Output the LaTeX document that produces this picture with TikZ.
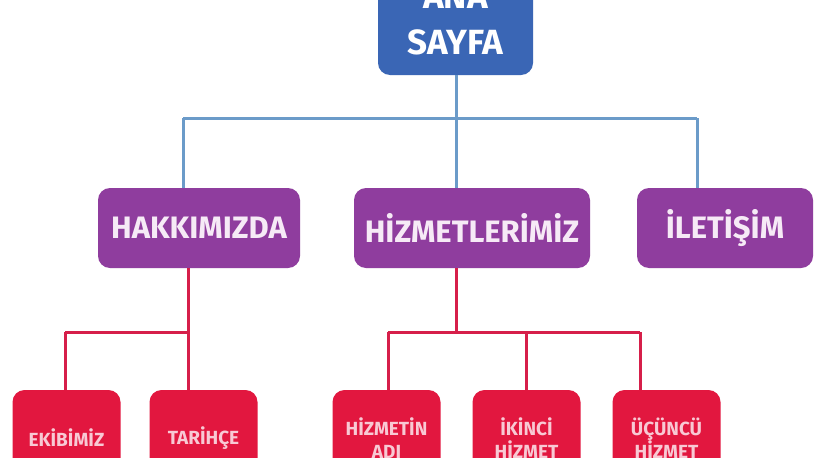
\documentclass[tikz,border=0pt]{standalone}
\usepackage{fontspec}
\setmainfont{Fira Sans}
\definecolor{anablue}{HTML}{3A66B5}
\definecolor{midpurple}{HTML}{8F3D9E}
\definecolor{lowred}{HTML}{E2173F}
\definecolor{bline}{HTML}{6B9BC9}
\definecolor{rline}{HTML}{D61F4A}
\definecolor{redtext}{HTML}{F8C9D4}
\definecolor{purtext}{HTML}{F6EAF6}
\tikzset{
  box/.style={rectangle, rounded corners=12pt, inner sep=0pt, align=center, font=\bfseries},
  topbox/.style={box, fill=anablue, text=white, minimum width=155pt, minimum height=110pt, font=\bfseries\fontsize{35}{46}\selectfont},
  midbox/.style={box, fill=midpurple, text=purtext, minimum height=80pt, font=\bfseries\fontsize{31}{33}\selectfont},
  lowbox/.style={box, fill=lowred, text=redtext, minimum width=108pt, minimum height=96pt, font=\bfseries\fontsize{19}{23}\selectfont},
  bconn/.style={draw=bline, line width=3pt},
  rconn/.style={draw=rline, line width=3pt},
}
\begin{document}
\begin{tikzpicture}[x=1pt, y=-1pt]
\useasboundingbox (0,0) rectangle (836,458);
\clip (0,0) rectangle (836,458);
\fill[white] (0,0) rectangle (836,458);
% nodes
\node[topbox] (ana) at (455.5,20) {ANA\\SAYFA};
\node[midbox, minimum width=202pt] (hak) at (199,228) {HAKKIMIZDA};
\node[midbox, minimum width=236pt] (hiz) at (472,228) {HİZMETLERİMİZ};
\node[midbox, minimum width=176pt] (ilt) at (725,228) {İLETİŞİM};
\node[lowbox] (eki) at (66.5,438) {EKİBİMİZ};
\node[lowbox] (tar) at (203.5,438) {TARİHÇE};
\node[lowbox] (hadi) at (386.5,438) {HİZMETİN\\ADI};
\node[lowbox] (iki) at (526.5,438) {İKİNCİ\\HİZMET};
\node[lowbox] (ucu) at (666.5,438) {ÜÇÜNCÜ\\HİZMET};
% blue connectors
\coordinate (bj) at (456,118);
\coordinate (bl) at (183,118);
\coordinate (br) at (697,118);
\draw[bconn] (ana.south -| bj) -- (bj);
\draw[bconn] (bl) -- (br);
\draw[bconn] (bl) -- (bl |- hak.north);
\draw[bconn] (bj) -- (bj |- hiz.north);
\draw[bconn] (br) -- (br |- ilt.north);
% red connectors left
\coordinate (rl1) at (188,332);
\coordinate (rl0) at (65,332);
\draw[rconn] (rl1 |- hak.south) -- (rl1 |- tar.north);
\draw[rconn] (rl0) -- (rl1);
\draw[rconn] (rl0) -- (rl0 |- eki.north);
% red connectors middle
\coordinate (rm) at (456,332);
\coordinate (rma) at (388,332);
\coordinate (rmb) at (526,332);
\coordinate (rmc) at (640,332);
\draw[rconn] (rm |- hiz.south) -- (rm);
\draw[rconn] (rma) -- (rmc);
\draw[rconn] (rma) -- (rma |- hadi.north);
\draw[rconn] (rmb) -- (rmb |- iki.north);
\draw[rconn] (rmc) -- (rmc |- ucu.north);
\end{tikzpicture}
\end{document}
